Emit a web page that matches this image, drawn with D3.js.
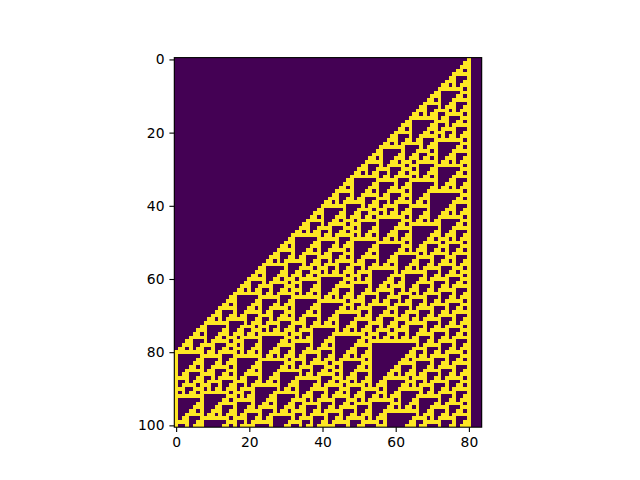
<!DOCTYPE html>
<html><head><meta charset="utf-8"><script src="https://cdn.jsdelivr.net/npm/d3@7"></script>
<style>body{margin:0;background:#fff}</style></head>
<body><svg id="chart" width="640" height="480"></svg>
<script>
// image rows, hex, 4 cells per digit
const rowsHex = [
"8","18","38","68","f8","188","398","6b8","fe8","1838","3868","68f8","f988","18b98","39eb8","6b3e8","ff638","181e68","3832f8","687788","f8dc98","189f5b8","39b1fe8","6bf3038","fe17068","1823d0f8",
"38667188","68eed398","f9bbf6b8","18bee1fe8","39e3a3038","6b26e7068","ff6fad0f8","181f8ff188","3830981398","6871b836b8","f8d3e87fe8","189f638c038","39b1e69c068","6bf32fb40f8","fe1778fc188","1823dc984398","386675b8c6b8","68eedfe9cfe8","f9bbf03b5838","18bee106ff868","39e3a30f808f8","6b26e71881988","ff6fad3983b98","181f8ff6b86eb8","3830981fe8fbe8","6871b830398e38",
"f8d3e8706b9a68","189f638d0febef8","39b1e69f183e388","6bf32fb13862698","fe1778f368e6fb8","1823dc997f9af8e8","386675bbc0bf89b8","68eedfee41e09be8","f9bbf03ac321be38","18bee106fc763e268","39e3a30f84de626f8","6b26e7188df2e6f88","ff6fad399f17af898","181f8ff6bb13cf89b8","3830981fef36589be8","6871b830397ef9be38","f8d3e8706bc38be268","189f638d0fe469e26f8","39b1e69f182cfb26f88","6bf32fb1387d8f6f898","fe1778f368c799f89b8","1823dc997f9ccbb09be8","386675bbc0b5def1be38","68eedfee41ff7393e268","f9bbf03ac301d6b626f8","18bee106fc7037ffe6f88",
"39e3a30f84d07c002f898","6b26e7188df0c400789b8","ff6fad399f11cc00c9be8","81f8ff6bb1335c01dbe38","830981fef377f4037e268","871b830397dc1c07c26f8","8d3e8706bc74340c46f88","9f638d0fe4dc7c1ccf898","b1e69f182df4c435d89b8","f32fb1387f1dcc7f79be8","9778f368c1375cc1cbe38","bdc997f9c37df5c35e268","e75bbc0b47c71f47f26f8","adfee41fcc4d31cc16f88","ff03ac305cdf735c3f898","8106fc70f5f1d7f4609b8","830f84d19f137c1ce1be8","87188df3b137c435a3e38","8d399f16f37c4c7fe6268","9f6bb13f97c4dcc02e6f8","b1fef360bc4df5c07af88","f30397e1e4df1f40cf898","9706bc232df131c1d89b8"
];
const xTicks = [0, 20, 40, 60, 80];
const yTicks = [0, 20, 40, 60, 80, 100];
const nCols = 84;

// unpack hex rows into 0/1 cells
const rows = rowsHex.map(h => h.padStart(21, "0").split("").flatMap(d => parseInt(d, 16).toString(2).padStart(4, "0").split("").map(Number)));

const svg = d3.select("#chart");
const plotH = 369.6;
const unit = plotH / rows.length;
const plotW = unit * nCols;
const marginLeft = 80 + (496 - plotW) / 2, marginTop = 57.6;
const x = d3.scaleLinear().domain([-0.5, nCols - 0.5]).range([marginLeft, marginLeft + plotW]);
const y = d3.scaleLinear().domain([-0.5, rows.length - 0.5]).range([marginTop, marginTop + plotH]);
const color = d3.scaleOrdinal().domain([0, 1]).range(["#440154", "#fde725"]);

const g = svg.append("g").attr("shape-rendering", "crispEdges");
g.append("rect").attr("x", x(-0.5)).attr("y", y(-0.5)).attr("width", plotW).attr("height", plotH).attr("fill", color(0));
rows.forEach((r, i) => r.forEach((v, j) => {
  if (!v) return;
  g.append("rect").attr("x", x(j - 0.5)).attr("y", y(i - 0.5))
    .attr("width", x(j + 0.5) - x(j - 0.5)).attr("height", y(i + 0.5) - y(i - 0.5)).attr("fill", color(v));
}));

function style(a) {
  a.selectAll("text").attr("font-family", "DejaVu Sans").attr("font-size", 13.89).attr("fill", "#000");
  a.selectAll("line").attr("stroke", "#000").attr("stroke-width", 1.1);
  a.select(".domain").remove();
}
svg.append("g").attr("transform", `translate(0,${marginTop + plotH})`)
  .call(d3.axisBottom(x).tickValues(xTicks).tickFormat(d3.format("d")).tickSize(4.9).tickPadding(4.9)).call(style);
svg.append("g").attr("transform", `translate(${marginLeft},0)`)
  .call(d3.axisLeft(y).tickValues(yTicks).tickFormat(d3.format("d")).tickSize(4.9).tickPadding(4.9)).call(style);
svg.append("rect").attr("x", marginLeft).attr("y", marginTop).attr("width", plotW).attr("height", plotH)
  .attr("fill", "none").attr("stroke", "#000").attr("stroke-width", 1.1);
</script></body></html>
